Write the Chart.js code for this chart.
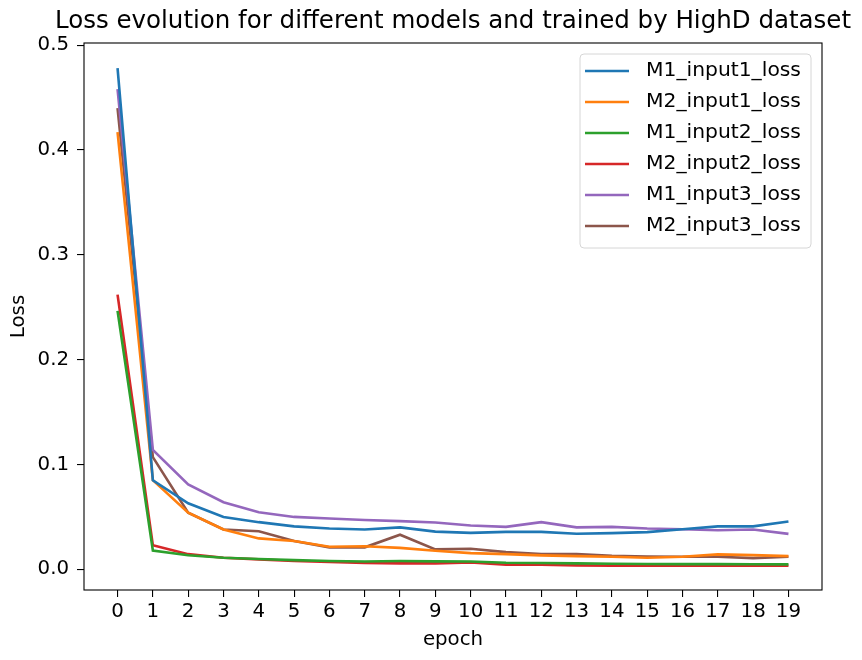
<!DOCTYPE html>
<html>
<head>
<meta charset="utf-8">
<script src="https://cdn.jsdelivr.net/npm/chart.js@4/dist/chart.umd.min.js"></script>
<style>
  html, body { margin: 0; padding: 0; background: #fff; }
  #wrap { width: 862px; height: 660px; }
</style>
</head>
<body>
<div id="wrap"><canvas id="chart" width="862" height="660"></canvas></div>
<script>
const epochs = [0, 1, 2, 3, 4, 5, 6, 7, 8, 9, 10, 11, 12, 13, 14, 15, 16, 17, 18, 19];
const yTicks = [0.0, 0.1, 0.2, 0.3, 0.4, 0.5];

const m1Input1 = [0.478, 0.085, 0.063, 0.050, 0.045, 0.041, 0.039, 0.038, 0.040, 0.036, 0.0348, 0.0357, 0.0357, 0.034, 0.0345, 0.0355, 0.0383, 0.041, 0.041, 0.0456];
const m2Input1 = [0.417, 0.085, 0.054, 0.038, 0.0295, 0.027, 0.0215, 0.022, 0.0205, 0.0177, 0.0155, 0.0145, 0.0133, 0.0126, 0.012, 0.011, 0.012, 0.0143, 0.0136, 0.0126];
const m1Input2 = [0.2465, 0.018, 0.0135, 0.011, 0.0098, 0.0088, 0.008, 0.0075, 0.0079, 0.0076, 0.0075, 0.0063, 0.006, 0.0057, 0.0054, 0.0051, 0.005, 0.005, 0.0048, 0.0047];
const m2Input2 = [0.262, 0.023, 0.0145, 0.011, 0.0095, 0.008, 0.007, 0.006, 0.0057, 0.0057, 0.0066, 0.0044, 0.0044, 0.0038, 0.0035, 0.0035, 0.0035, 0.0035, 0.0035, 0.0035];
const m1Input3 = [0.458, 0.114, 0.081, 0.064, 0.0545, 0.050, 0.0485, 0.047, 0.046, 0.0447, 0.0418, 0.0405, 0.045, 0.040, 0.0405, 0.039, 0.0383, 0.0373, 0.038, 0.0338];
const m2Input3 = [0.440, 0.107, 0.054, 0.038, 0.0364, 0.027, 0.021, 0.021, 0.033, 0.019, 0.0196, 0.0164, 0.0145, 0.0145, 0.013, 0.0123, 0.012, 0.012, 0.0107, 0.012];

const seriesNames = ['M1_input1_loss', 'M2_input1_loss', 'M1_input2_loss', 'M2_input2_loss', 'M1_input3_loss', 'M2_input3_loss'];
const seriesValues = [m1Input1, m2Input1, m1Input2, m2Input2, m1Input3, m2Input3];
const colours = ['#1f77b4', '#ff7f0e', '#2ca02c', '#d62728', '#9467bd', '#8c564b'];

const FONT = 'DejaVu Sans';
const TICK_SIZE = 19.8;

const datasets = seriesNames.map((name, i) => ({
  label: name,
  data: epochs.map((e, j) => ({ x: e, y: seriesValues[i][j] })),
  borderColor: colours[i],
  backgroundColor: colours[i],
  borderWidth: 2.6,
  pointRadius: 0,
  tension: 0,
}));

// matplotlib style title, frame and legend
const mplExtras = {
  id: 'mplExtras',
  afterDraw(chart) {
    const { ctx, chartArea } = chart;
    ctx.save();
    ctx.strokeStyle = '#000';
    ctx.lineWidth = 1.1;
    ctx.strokeRect(chartArea.left, chartArea.top, chartArea.right - chartArea.left, chartArea.bottom - chartArea.top);

    ctx.fillStyle = '#000';
    ctx.font = '24.5px "' + FONT + '"';
    ctx.textAlign = 'center';
    ctx.textBaseline = 'middle';
    ctx.fillText('Loss evolution for different models and trained by HighD dataset', (chartArea.left + chartArea.right) / 2, 22);

    // legend box
    const bx = 580, by = 54, bw = 231, bh = 194, r = 4;
    ctx.beginPath();
    ctx.moveTo(bx + r, by);
    ctx.arcTo(bx + bw, by, bx + bw, by + bh, r);
    ctx.arcTo(bx + bw, by + bh, bx, by + bh, r);
    ctx.arcTo(bx, by + bh, bx, by, r);
    ctx.arcTo(bx, by, bx + bw, by, r);
    ctx.closePath();
    ctx.fillStyle = 'rgba(255,255,255,0.8)';
    ctx.fill();
    ctx.strokeStyle = '#d6d6d6';
    ctx.lineWidth = 1;
    ctx.stroke();

    ctx.font = '20.3px "' + FONT + '"';
    ctx.textAlign = 'left';
    chart.data.datasets.forEach((ds, i) => {
      const y = 71 + i * 31;
      ctx.strokeStyle = ds.borderColor;
      ctx.lineWidth = 2.6;
      ctx.beginPath();
      ctx.moveTo(585, y);
      ctx.lineTo(629, y);
      ctx.stroke();
      ctx.fillStyle = '#000';
      ctx.fillText(ds.label, 646, y);
    });
    ctx.restore();
  }
};

new Chart(document.getElementById('chart'), {
  type: 'line',
  data: { datasets },
  plugins: [mplExtras],
  options: {
    responsive: false,
    animation: false,
    layout: { padding: { top: 43, right: 40, left: 0, bottom: 0 } },
    plugins: {
      legend: { display: false },
      title: { display: false },
      tooltip: { enabled: false }
    },
    scales: {
      x: {
        type: 'linear',
        min: -0.95,
        max: 19.95,
        afterBuildTicks: (scale) => { scale.ticks = epochs.map(v => ({ value: v })); },
        afterFit: (scale) => { scale.height = 70; },
        grid: { drawOnChartArea: false, drawTicks: true, tickLength: 7, color: '#000', lineWidth: 1.1 },
        border: { display: false },
        ticks: { color: '#000', padding: 3, maxRotation: 0, autoSkip: false, font: { family: FONT, size: TICK_SIZE } },
        title: { display: true, text: 'epoch', color: '#000', padding: { top: 0, bottom: 8 }, font: { family: FONT, size: TICK_SIZE } }
      },
      y: {
        type: 'linear',
        min: -0.0197,
        max: 0.502,
        afterBuildTicks: (scale) => { scale.ticks = yTicks.map(v => ({ value: v })); },
        afterFit: (scale) => { scale.width = 84; },
        grid: { drawOnChartArea: false, drawTicks: true, tickLength: 7, color: '#000', lineWidth: 1.1 },
        border: { display: false },
        ticks: { color: '#000', padding: 8, callback: (v) => Number(v).toFixed(1), font: { family: FONT, size: TICK_SIZE } },
        title: { display: true, text: 'Loss', color: '#000', padding: { top: 7, bottom: 0 }, font: { family: FONT, size: TICK_SIZE } }
      }
    }
  }
});
</script>
</body>
</html>
